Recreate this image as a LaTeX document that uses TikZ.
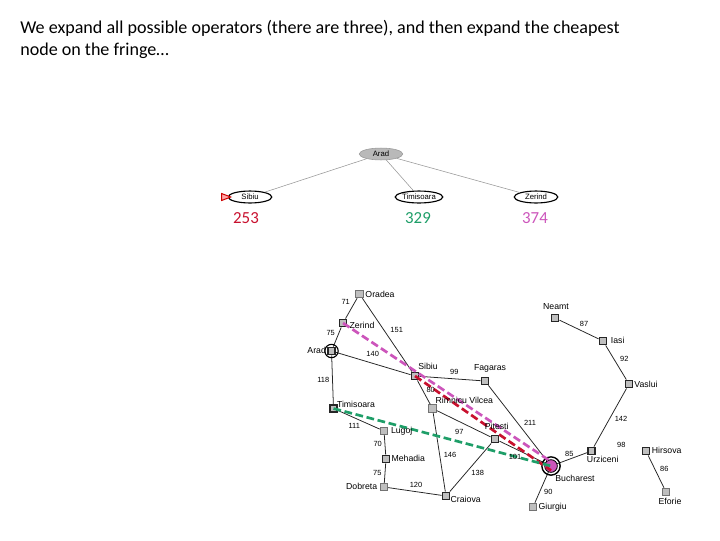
\documentclass[tikz,border=0pt]{standalone}
\usepackage{fontspec}
\setmainfont{Carlito}
\newfontfamily\mapfont{Liberation Sans}
\usepackage{xcolor}
\usetikzlibrary{shapes.geometric}
\definecolor{routered}{HTML}{C8102E}
\definecolor{routegreen}{HTML}{1E9E68}
\definecolor{routepink}{HTML}{CC55BB}

\begin{document}
\begin{tikzpicture}[
    x=0.025cm, y=-0.025cm,
    headline/.style={anchor=north west, align=left, inner sep=0pt, font=\fontsize{12.85}{15}\selectfont},
    treend/.style={ellipse, draw=black, line width=0.8pt, fill=white, minimum width=31pt, minimum height=8.5pt,
                 inner sep=0pt, font=\mapfont\fontsize{5.5}{6}\selectfont},
    rootnd/.style={ellipse, draw=gray!80, fill=gray!55, minimum width=31pt, minimum height=8.5pt,
                 inner sep=0pt, font=\mapfont\fontsize{5.5}{6}\selectfont},
    treeln/.style={gray!80, line width=0.4pt},
    cost/.style={font=\fontsize{12}{14}\selectfont},
    city/.style={rectangle, draw=black!85, line width=1.1pt, fill=gray!50, minimum size=5.2pt, inner sep=0pt},
    citylt/.style={rectangle, draw=black!55, line width=0.8pt, fill=gray!50, minimum size=5.2pt, inner sep=0pt},
    cityname/.style={inner sep=0pt, font=\mapfont\fontsize{6.2}{7}\selectfont},
    dist/.style={inner sep=0pt, font=\mapfont\fontsize{5.3}{6}\selectfont},
    road/.style={black!85, line width=0.55pt},
    route/.style={dash pattern=on 5.5pt off 2.6pt, line width=1.9pt},
]
  \useasboundingbox (0,0) rectangle (720,540);

  %% ---- heading ----
  \node[headline] (head) at (20,20.5) {We expand all possible operators (there are three), and then expand the cheapest\\node on the fringe…};

  %% ---- search tree ----
  \node[rootnd] (troot) at (381,154) {Arad};
  \node[treend] (tsibiu) at (250,197) {Sibiu};
  \node[treend] (ttimi)  at (419,197) {Timisoara};
  \node[treend] (tzer)   at (536,197) {Zerind};
  \node[isosceles triangle, isosceles triangle stretches, draw=red!80!black, fill=red!35, line width=0.7pt,
        minimum height=6.5pt, minimum width=5pt, inner sep=0pt] (tmark) at (224,197) {};

  \draw[treeln] (troot) -- (tsibiu);
  \draw[treeln] (troot) -- (ttimi);
  \draw[treeln] (troot) -- (tzer);

  \node[cost, text=routered]   (c253) at (246,218) {253};
  \node[cost, text=routegreen] (c329) at (418,218) {329};
  \node[cost, text=routepink]  (c374) at (535,218) {374};

  %% ---- map cities ----
  \node[citylt] (oradea)    at (359.5,294) {};
  \node[city]   (zerind)    at (343,323) {};
  \node[city]   (arad)      at (331.5,351) {};
  \node[city]   (timisoara) at (333.5,408.5) {};
  \node[city]   (sibiu)     at (415,376) {};
  \node[city]   (fagaras)   at (485,381) {};
  \node[citylt] (rimnicu)   at (432.5,408.5) {};
  \node[citylt] (lugoj)     at (384,431) {};
  \node[city]   (mehadia)   at (386,459) {};
  \node[citylt] (dobreta)   at (384,487) {};
  \node[city]   (craiova)   at (446,496) {};
  \node[city]   (pitesti)   at (495,439) {};
  \node[city]   (bucharest) at (551,466) {};
  \node[citylt] (giurgiu)   at (533,507) {};
  \node[city]   (urziceni)  at (591.5,451) {};
  \node[city]   (vaslui)    at (629,384) {};
  \node[city]   (iasi)      at (603,341) {};
  \node[city]   (neamt)     at (555,318) {};
  \node[city]   (hirsova)   at (646,451) {};
  \node[citylt] (eforie)    at (666,492) {};

  %% ---- roads ----
  \draw[road] (oradea) -- (zerind);
  \draw[road] (zerind) -- (arad);
  \draw[road] (oradea) -- (sibiu);
  \draw[road] (arad) -- (sibiu);
  \draw[road] (arad) -- (timisoara);
  \draw[road] (timisoara) -- (lugoj);
  \draw[road] (lugoj) -- (mehadia);
  \draw[road] (mehadia) -- (dobreta);
  \draw[road] (dobreta) -- (craiova);
  \draw[road] (sibiu) -- (fagaras);
  \draw[road] (sibiu) -- (rimnicu);
  \draw[road] (rimnicu) -- (craiova);
  \draw[road] (rimnicu) -- (pitesti);
  \draw[road] (craiova) -- (pitesti);
  \draw[road] (pitesti) -- (bucharest);
  \draw[road] (fagaras) -- (bucharest);
  \draw[road] (bucharest) -- (giurgiu);
  \draw[road] (bucharest) -- (urziceni);
  \draw[road] (urziceni) -- (vaslui);
  \draw[road] (vaslui) -- (iasi);
  \draw[road] (iasi) -- (neamt);
  \draw[road] (hirsova) -- (eforie);

  %% ---- rings on start and goal ----
  \node[circle, draw=black, line width=0.8pt, minimum size=9.5pt, inner sep=0pt] (aradring) at (arad) {};
  \node[circle, draw=black, line width=1pt, minimum size=13pt, inner sep=0pt] (buchout) at (bucharest) {};
  \node[circle, draw=black, line width=0.6pt, fill=routepink, minimum size=9pt, inner sep=0pt] (buchin) at (bucharest) {};

  %% ---- the three routes ----
  \draw[route, routepink]  (zerind.center) -- (bucharest.north);
  \draw[route, routered]   (sibiu.center) -- (bucharest.south);
  \draw[route, routegreen] (timisoara.center) -- (bucharest.center);

  %% ---- city names ----
  \node[cityname] (noradea)  at (380,294) {Oradea};
  \node[cityname] (nzerind)  at (362,325) {Zerind};
  \node[cityname] (narad)    at (316.7,350) {Arad};
  \node[cityname] (ntimi)    at (356,404.3) {Timisoara};
  \node[cityname] (nsibiu)   at (428,366) {Sibiu};
  \node[cityname] (nfagaras) at (490,368) {Fagaras};
  \node[cityname] (nrimnicu) at (464.3,400) {Rimnicu Vilcea};
  \node[cityname] (nlugoj)   at (401.7,431) {Lugoj};
  \node[cityname] (nmehadia) at (408.3,458.3) {Mehadia};
  \node[cityname] (ndobreta) at (361.7,486.7) {Dobreta};
  \node[cityname] (ncraiova) at (465.7,499.3) {Craiova};
  \node[cityname] (npitesti) at (496.7,426) {Pitesti};
  \node[cityname] (nbuch)    at (575,478) {Bucharest};
  \node[cityname] (ngiurgiu) at (552.7,507.3) {Giurgiu};
  \node[cityname] (nurz)     at (602.7,459) {Urziceni};
  \node[cityname] (nvaslui)  at (646,384) {Vaslui};
  \node[cityname] (niasi)    at (617.7,340) {Iasi};
  \node[cityname] (nneamt)   at (556,306.7) {Neamt};
  \node[cityname] (nhirsova) at (666.7,450.7) {Hirsova};
  \node[cityname] (neforie)  at (670,501) {Eforie};

  %% ---- road lengths ----
  \node[dist] (d71)  at (345.7,301.7) {71};
  \node[dist] (d75a) at (330.7,332.7) {75};
  \node[dist] (d151) at (396.7,330) {151};
  \node[dist] (d140) at (372.7,354) {140};
  \node[dist] (d118) at (323.3,380) {118};
  \node[dist] (d99)  at (454.3,371.7) {99};
  \node[dist] (d80)  at (430.7,390) {80};
  \node[dist] (d97)  at (459.3,431.7) {97};
  \node[dist] (d211) at (530,422.7) {211};
  \node[dist] (d101) at (515,457.3) {101};
  \node[dist] (d146) at (450,455) {146};
  \node[dist] (d138) at (477.7,472.7) {138};
  \node[dist] (d111) at (354.3,426) {111};
  \node[dist] (d70)  at (377.7,444) {70};
  \node[dist] (d75b) at (377.3,473.3) {75};
  \node[dist] (d120) at (416,485) {120};
  \node[dist] (d87)  at (584,324) {87};
  \node[dist] (d92)  at (624.3,359.3) {92};
  \node[dist] (d85)  at (569.3,454.3) {85};
  \node[dist] (d142) at (621,419.3) {142};
  \node[dist] (d98)  at (621.3,445) {98};
  \node[dist] (d86)  at (664.3,469) {86};
  \node[dist] (d90)  at (548.3,491.7) {90};

\end{tikzpicture}
\end{document}
